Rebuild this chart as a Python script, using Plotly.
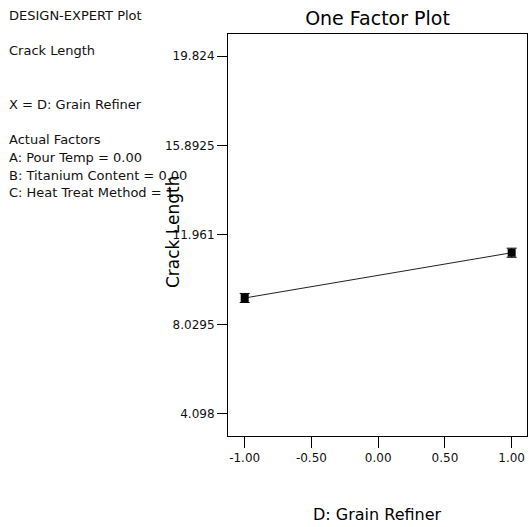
import plotly.graph_objects as go

# Data
x_levels = [-1.0, 1.0]
crack_length = [9.19, 11.18]
err = [0.2, 0.2]
y_tickvals = [4.098, 8.0295, 11.961, 15.8925, 19.824]
y_ticktext = ["4.098", "8.0295", "11.961", "15.8925", "19.824"]
x_tickvals = [-1.0, -0.5, 0.0, 0.5, 1.0]
x_ticktext = ["-1.00", "-0.50", "0.00", "0.50", "1.00"]
info_lines = [
    ("DESIGN-EXPERT Plot", 15),
    ("Crack Length", 51),
    ("X = D: Grain Refiner", 104),
    ("Actual Factors", 139),
    ("A: Pour Temp = 0.00", 157),
    ("B: Titanium Content = 0.00", 175),
    ("C: Heat Treat Method = 1", 193),
]

W, H = 529, 527
L, R, T, B = 228, 2, 34, 91
FAM = "DejaVu Sans, Verdana, sans-serif"

fig = go.Figure()
fig.add_trace(go.Scatter(
    x=x_levels, y=crack_length, mode="lines",
    line=dict(color="#222222", width=1), showlegend=False, hoverinfo="skip"))
fig.add_trace(go.Scatter(
    x=x_levels, y=crack_length, mode="markers",
    marker=dict(symbol="square", size=8, color="black"),
    error_y=dict(type="data", array=err, color="black", thickness=1, width=5),
    showlegend=False))

tickfont = dict(family=FAM, size=12, color="#111111")

fig.update_layout(
    width=W, height=H,
    margin=dict(l=L, r=R, t=T, b=B),
    paper_bgcolor="white", plot_bgcolor="white",
    font=dict(family=FAM, size=12, color="#111111"),
    title=dict(text="One Factor Plot", x=(L + (W - R)) / 2 / W, xanchor="center",
               y=1 - 18 / H, yanchor="middle",
               font=dict(family=FAM, size=19, color="black")),
    xaxis=dict(range=[-1.125, 1.115], tickvals=x_tickvals, ticktext=x_ticktext,
               ticks="outside", ticklen=11, tickcolor="black", showgrid=False,
               zeroline=False, showline=True, linecolor="black", linewidth=1, mirror=True,
               tickfont=tickfont),
    yaxis=dict(range=[3.12, 20.8], tickvals=y_tickvals, ticktext=y_ticktext,
               ticks="outside", ticklen=10, tickcolor="black", showgrid=False,
               zeroline=False, showline=True, linecolor="black", linewidth=1, mirror=True,
               tickfont=tickfont),
)

PW, PH = W - L - R, H - T - B
for text, ypx in info_lines:
    fig.add_annotation(text=text, xref="paper", yref="paper",
                       x=(7 - L) / PW, y=1 - (ypx - T) / PH,
                       xanchor="left", yanchor="middle", showarrow=False,
                       font=dict(family=FAM, size=13, color="#111111"))

# axis titles
fig.add_annotation(text="Crack Length", xref="paper", yref="paper",
                   x=(173 - L) / PW, y=1 - (232 - T) / PH,
                   xanchor="center", yanchor="middle", textangle=-90, showarrow=False,
                   font=dict(family=FAM, size=17, color="black"))
fig.add_annotation(text="D: Grain Refiner", xref="paper", yref="paper",
                   x=(377 - L) / PW, y=1 - (514 - T) / PH,
                   xanchor="center", yanchor="middle", showarrow=False,
                   font=dict(family=FAM, size=16, color="black"))

fig.write_html("out.html", config={"displayModeBar": False},
               post_script="document.body.style.margin='0';document.body.style.overflow='hidden';")
